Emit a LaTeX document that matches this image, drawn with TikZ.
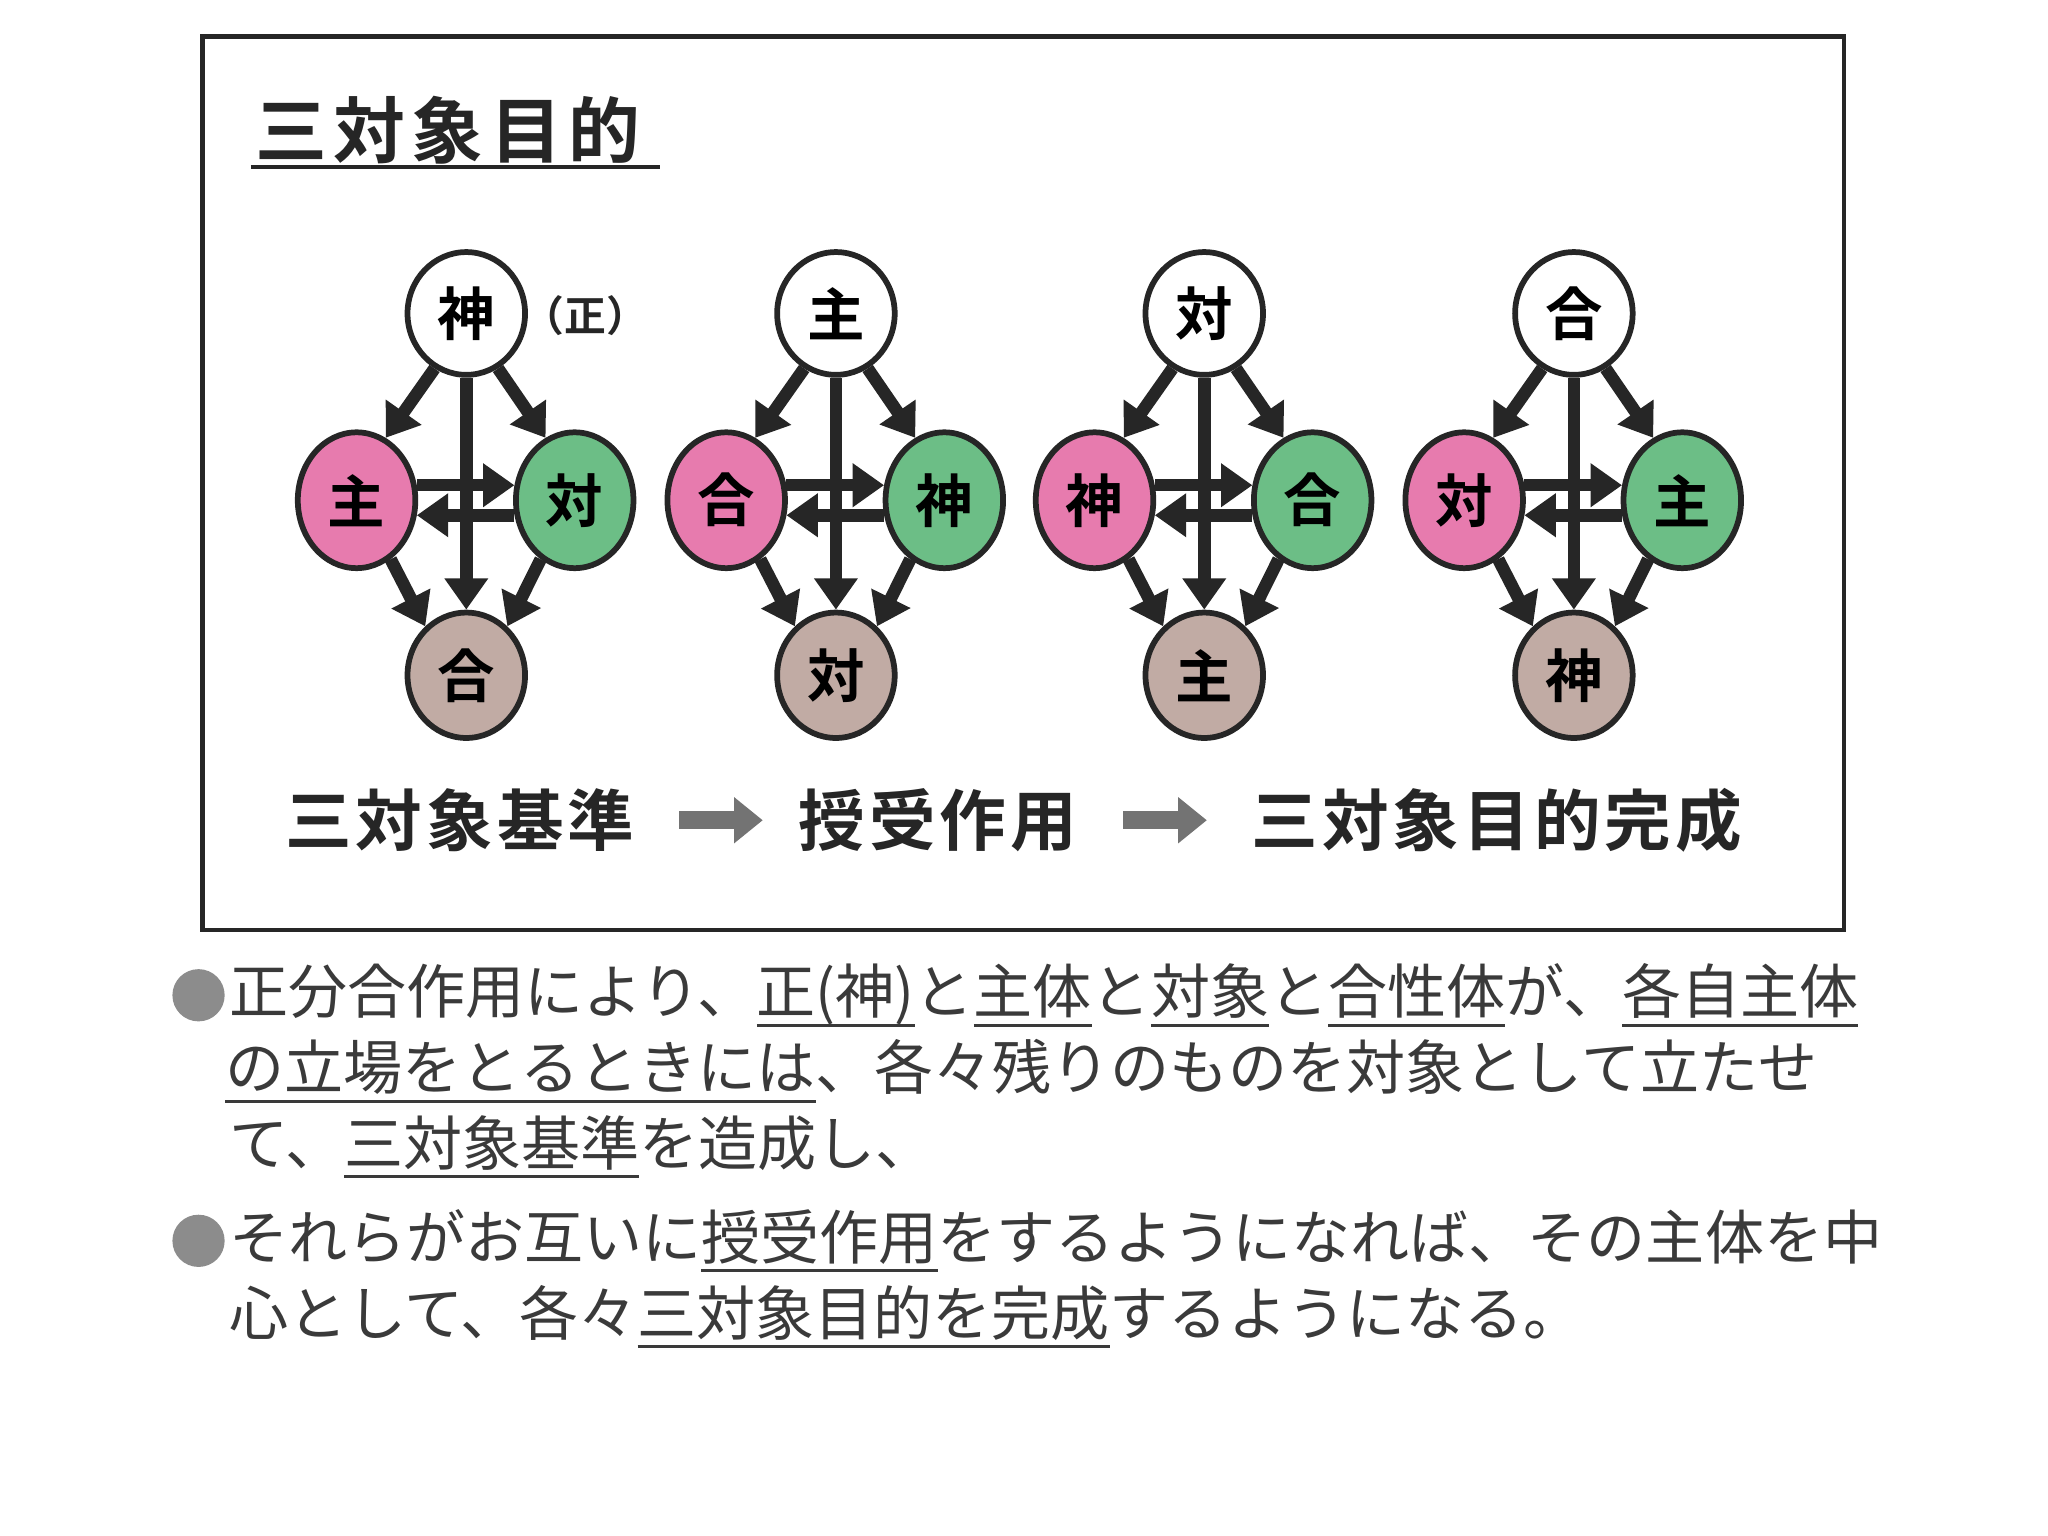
\documentclass[tikz,border=0pt]{standalone}
\usepackage{fontspec}
\usetikzlibrary{shapes.geometric,arrows.meta,calc}
\newfontfamily\jp{Noto Sans CJK JP}
\newfontfamily\jpb{Noto Sans CJK JP Bold}
\newfontfamily\jpbt[LetterSpace=9]{Noto Sans CJK JP Bold}
\newfontfamily\jpbl[LetterSpace=6]{Noto Sans CJK JP Bold}
\definecolor{pinkc}{HTML}{E77BAE}
\definecolor{greenc}{HTML}{6CBE86}
\definecolor{brownc}{HTML}{C1ABA4}
\definecolor{txt}{HTML}{3A3A3A}
\newcommand\myul[1]{\setbox0\hbox{#1}\rlap{\rule[-5pt]{\wd0}{1.1pt}}\box0}
\tikzset{
 circ/.style={ellipse,draw=black!85,line width=2.2pt,inner sep=0pt,minimum width=45pt,minimum height=#1,font=\jpb\fontsize{22}{22}\selectfont},
 arr/.style={line width=4.8pt,draw=black!85,-{Triangle[length=12pt,width=16pt]}},
 garr/.style={line width=7pt,draw=black!55,-{Triangle[length=11pt,width=17pt]}},
 body/.style={anchor=west,inner sep=0pt,text=txt,font=\jp\fontsize{22.6}{26}\selectfont},
 lbl/.style={font=\jpbl\fontsize{25.5}{25.5}\selectfont,text=black!85}
}
\begin{document}
\begin{tikzpicture}[x=0.5pt,y=-0.5pt]
\useasboundingbox[fill=white] (0,0) rectangle (1568,1176);
\draw[line width=1.6pt,black!85] (155,28) rectangle (1412,712);
\node[anchor=west,inner sep=0pt,text=black!85,font=\jpbt\fontsize{27.5}{27.5}\selectfont] (title) at (195,100) {三対象目的};
\draw[line width=1.3pt,black!85] (192,128) -- (505,128);
\foreach \i/\cx/\t/\l/\r/\b in {1/357/神/主/対/合, 2/640/主/合/神/対, 3/922/対/神/合/主, 4/1205/合/対/主/神}{
 \node[circ=47pt,fill=white] (T\i) at (\cx,240) {\t};
 \node[circ=52pt,fill=pinkc] (L\i) at (\cx-84,383) {\l};
 \node[circ=52pt,fill=greenc] (R\i) at (\cx+83,383) {\r};
 \node[circ=48pt,fill=brownc] (B\i) at (\cx,517) {\b};
 \draw[arr] (T\i.240) -- (L\i.65);
 \draw[arr] (T\i.300) -- (R\i.115);
 \draw[arr] (T\i.south) -- (B\i.north);
 \draw[arr] (L\i.300) -- (B\i.130);
 \draw[arr] (R\i.240) -- (B\i.50);
 \draw[arr] (L\i.14) -- (R\i.166);
 \draw[arr] (R\i.194) -- (L\i.-14);
}
\node[anchor=west,inner sep=0pt,text=black!85,font=\jpb\fontsize{16}{16}\selectfont] (sei) at (400,242) {（正）};
\node[lbl] (s1) at (352,628) {三対象基準};
\node[lbl] (s2) at (718,628) {授受作用};
\node[lbl] (s3) at (1146,628) {三対象目的完成};
\coordinate (a1) at (520,628); \coordinate (a2) at (584,628);
\coordinate (a3) at (860,628); \coordinate (a4) at (924,628);
\draw[garr] (a1) -- (a2);
\draw[garr] (a3) -- (a4);
\fill[black!45] (152,762) circle (10pt);
\fill[black!45] (152,950) circle (10pt);
\node[body] (p1) at (175,762) {正分合作用により、\myul{正(神)}と\myul{主体}と\myul{対象}と\myul{合性体}が、\myul{各自主体}};
\node[body] (p2) at (172,820) {\myul{の立場をとるときには}、各々残りのものを対象として立たせ};
\node[body] (p3) at (175,878) {て、\myul{三対象基準}を造成し、};
\node[body] (p4) at (175,950) {それらがお互いに\myul{授受作用}をするようになれば、その主体を中};
\node[body] (p5) at (175,1008) {心として、各々\myul{三対象目的を完成}するようになる。};
\end{tikzpicture}
\end{document}
